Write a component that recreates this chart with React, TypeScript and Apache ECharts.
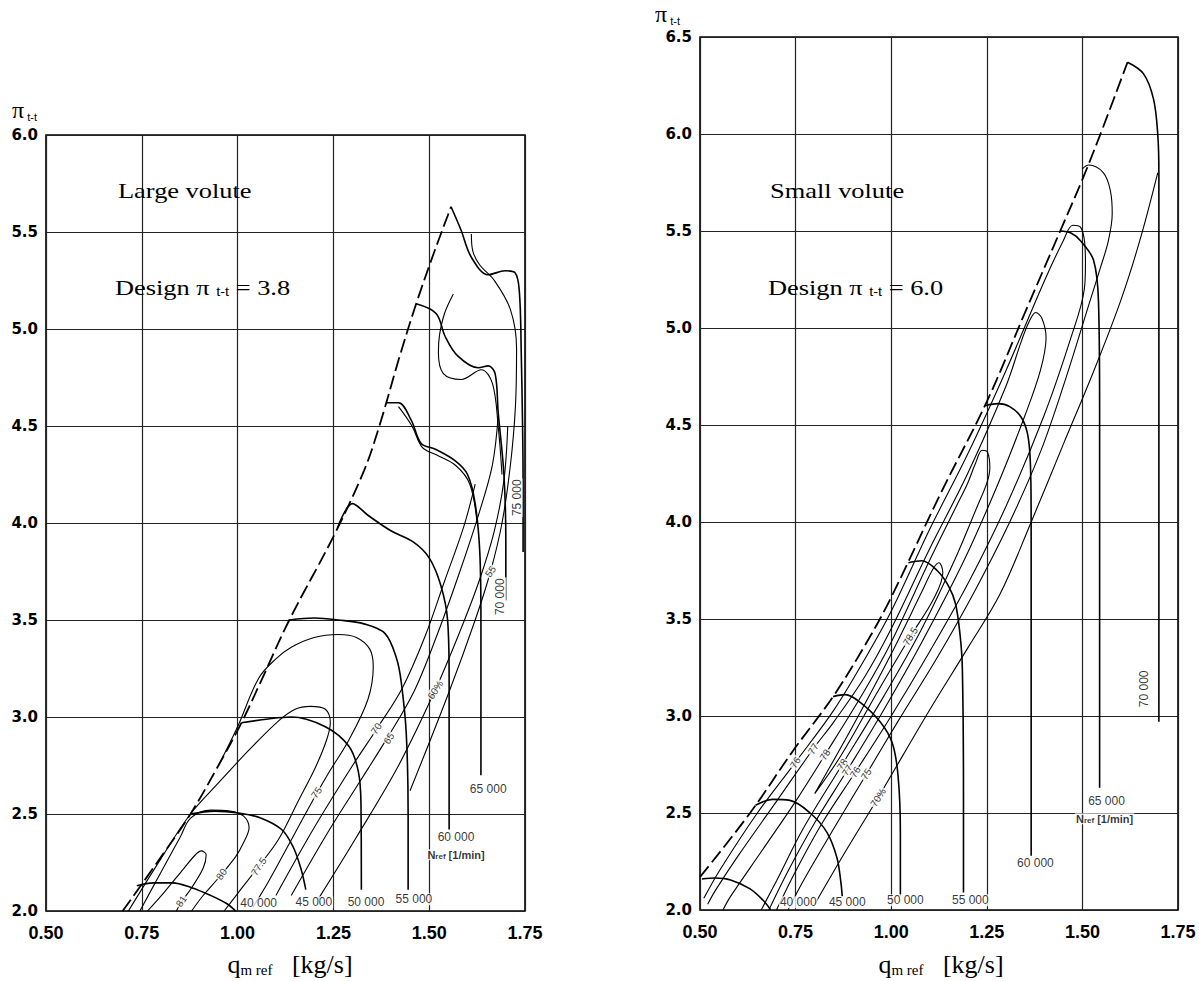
import React, { useEffect, useRef } from "react";
import * as echarts from "echarts";

type Pt = [number, number];
type Lbl = [number, number, string];

const SERIF = "Liberation Serif";
const SANS = "Liberation Sans";

// ---------- axes ----------
const xRange: Pt = [0.5, 1.75];
const xStep = 0.25;
const yStep = 0.5;
const leftYRange: Pt = [2.0, 6.0];
const rightYRange: Pt = [2.0, 6.5];

// ---------- LEFT : large volute ----------
const leftSurge: Pt[] = [[0.70, 2.0], [0.79, 2.25], [0.877, 2.5], [0.95, 2.75], [1.01, 2.97], [1.06, 3.18], [1.135, 3.5], [1.25, 3.93], [1.33, 4.27], [1.37, 4.5], [1.42, 4.84], [1.466, 5.13], [1.51, 5.38], [1.557, 5.63]];

const leftN40: Pt[] = [[0.737, 2.13], [0.78, 2.145], [0.83, 2.145], [0.88, 2.12], [0.93, 2.08], [0.97, 2.04], [0.995, 2.0]];
const leftN45: Pt[] = [[0.877, 2.5], [0.94, 2.515], [1.003, 2.505], [1.06, 2.48], [1.115, 2.42], [1.145, 2.33], [1.165, 2.22], [1.178, 2.11]];
const leftN50: Pt[] = [[1.01, 2.97], [1.08, 2.99], [1.14, 3.0], [1.229, 2.95], [1.29, 2.85], [1.315, 2.72], [1.322, 2.55], [1.323, 2.11]];
const leftN55: Pt[] = [[1.135, 3.5], [1.2, 3.51], [1.263, 3.5], [1.33, 3.48], [1.385, 3.43], [1.415, 3.3], [1.427, 3.18], [1.44, 2.92], [1.445, 2.5], [1.445, 2.11]];
const leftN60: Pt[] = [[1.26, 3.97], [1.30, 4.1], [1.34, 4.04], [1.40, 3.96], [1.46, 3.9], [1.50, 3.82], [1.53, 3.68], [1.548, 3.5], [1.552, 3.2], [1.552, 2.42]];
const leftN65: Pt[] = [[1.388, 4.62], [1.42, 4.62], [1.453, 4.53], [1.479, 4.41], [1.516, 4.38], [1.568, 4.32], [1.60, 4.25], [1.62, 4.1], [1.632, 3.85], [1.635, 3.5], [1.635, 2.7]];
const leftN70: Pt[] = [[1.466, 5.13], [1.518, 5.08], [1.542, 4.96], [1.575, 4.86], [1.628, 4.8], [1.654, 4.81], [1.672, 4.77], [1.68, 4.57], [1.695, 4.25], [1.70, 3.9], [1.70, 3.6]];
const leftN75: Pt[] = [[1.557, 5.63], [1.583, 5.51], [1.61, 5.37], [1.654, 5.28], [1.698, 5.3], [1.724, 5.29], [1.735, 5.2], [1.74, 4.9], [1.745, 4.2], [1.745, 3.85]];

const leftE81: Pt[] = [[0.765, 2.0], [0.81, 2.1], [0.86, 2.22], [0.89, 2.29], [0.905, 2.31], [0.918, 2.29], [0.91, 2.22], [0.88, 2.12], [0.855, 2.05], [0.84, 2.0]];
const leftE80: Pt[] = [[0.745, 2.0], [0.80, 2.2], [0.85, 2.38], [0.878, 2.48], [0.93, 2.52], [0.98, 2.515], [1.015, 2.49], [1.03, 2.43], [1.015, 2.35], [0.995, 2.28], [0.95, 2.17], [0.91, 2.08], [0.88, 2.0]];
const leftE775: Pt[] = [[0.715, 2.0], [0.80, 2.27], [0.877, 2.5], [0.95, 2.66], [1.03, 2.83], [1.107, 2.98], [1.15, 3.04], [1.19, 3.055], [1.229, 3.04], [1.242, 2.97], [1.232, 2.88], [1.203, 2.74], [1.159, 2.57], [1.107, 2.37], [1.055, 2.23], [1.0, 2.09], [0.965, 2.0]];
const leftE75: Pt[] = [[0.95, 2.75], [1.0, 2.95], [1.055, 3.2], [1.10, 3.3], [1.14, 3.36], [1.2, 3.41], [1.263, 3.425], [1.31, 3.41], [1.345, 3.35], [1.354, 3.26], [1.34, 3.09], [1.29, 2.88], [1.237, 2.71], [1.185, 2.53], [1.13, 2.33], [1.08, 2.15], [1.04, 2.02]];
const leftE70: Pt[] = [[1.10, 2.08], [1.20, 2.43], [1.30, 2.75], [1.367, 2.95], [1.43, 3.15], [1.49, 3.42], [1.54, 3.7], [1.59, 3.98], [1.62, 4.2]];
const leftE65: Pt[] = [[1.14, 2.08], [1.24, 2.42], [1.32, 2.67], [1.393, 2.9], [1.46, 3.13], [1.52, 3.42], [1.58, 3.75], [1.63, 4.05], [1.665, 4.3], [1.68, 4.55]];
const leftE60: Pt[] = [[1.21, 2.06], [1.31, 2.38], [1.42, 2.75], [1.516, 3.14], [1.58, 3.44], [1.63, 3.7], [1.67, 3.96], [1.695, 4.22], [1.705, 4.5]];
const leftE55: Pt[] = [[1.45, 2.62], [1.55, 3.12], [1.62, 3.5], [1.66, 3.75], [1.69, 4.0], [1.712, 4.3], [1.725, 4.6], [1.728, 4.9], [1.712, 5.1], [1.67, 5.25], [1.632, 5.33], [1.614, 5.4], [1.61, 5.49]];
const leftETop: Pt[] = [[1.563, 5.18], [1.54, 5.08], [1.527, 4.97], [1.524, 4.88], [1.537, 4.77], [1.584, 4.74], [1.636, 4.79], [1.665, 4.72], [1.68, 4.5], [1.69, 4.25]];
const leftEMid: Pt[] = [[1.42, 4.6], [1.455, 4.5], [1.482, 4.39], [1.52, 4.35], [1.57, 4.295], [1.606, 4.2], [1.625, 4.0]];

const leftEffLabels: Lbl[] = [[0.853, 2.05, "81"], [0.958, 2.19, "80"], [1.055, 2.23, "77.5"], [1.206, 2.61, "75"], [1.362, 2.94, "70"], [1.395, 2.89, "65"], [1.516, 3.14, "60%"], [1.66, 3.75, "55"]];
const leftSpeedLabels: Lbl[] = [[1.055, 2.04, "40 000"], [1.199, 2.045, "45 000"], [1.335, 2.045, "50 000"], [1.46, 2.06, "55 000"], [1.57, 2.38, "60 000"], [1.654, 2.63, "65 000"]];
const leftVertLabels: Lbl[] = [[1.686, 3.62, "70 000"], [1.728, 4.13, "75 000"]];
const leftNref: Pt = [1.57, 2.29];

// ---------- RIGHT : small volute ----------
const rightSurge: Pt[] = [[0.5, 2.17], [0.631, 2.5], [0.743, 2.82], [0.848, 3.1], [0.93, 3.36], [0.997, 3.6], [1.13, 4.15], [1.25, 4.62], [1.35, 5.08], [1.442, 5.5], [1.503, 5.78], [1.555, 6.04], [1.618, 6.37]];

const rightN40: Pt[] = [[0.505, 2.16], [0.54, 2.165], [0.58, 2.155], [0.63, 2.11], [0.665, 2.05], [0.685, 2.0]];
const rightN45: Pt[] = [[0.645, 2.54], [0.69, 2.57], [0.735, 2.565], [0.788, 2.5], [0.832, 2.40], [0.858, 2.27], [0.868, 2.15], [0.872, 2.07]];
const rightN50: Pt[] = [[0.848, 3.1], [0.88, 3.11], [0.919, 3.07], [0.971, 2.97], [1.003, 2.86], [1.018, 2.69], [1.024, 2.4], [1.024, 2.07]];
const rightN55: Pt[] = [[1.045, 3.79], [1.08, 3.8], [1.12, 3.75], [1.15, 3.67], [1.168, 3.58], [1.18, 3.42], [1.186, 3.25], [1.189, 2.6], [1.189, 2.09]];
const rightN60: Pt[] = [[1.246, 4.6], [1.28, 4.61], [1.31, 4.595], [1.34, 4.54], [1.357, 4.45], [1.364, 4.3], [1.366, 4.0], [1.366, 3.0], [1.366, 2.28]];
const rightN65: Pt[] = [[1.442, 5.5], [1.47, 5.49], [1.495, 5.45], [1.529, 5.35], [1.542, 5.14], [1.545, 4.6], [1.545, 3.5], [1.545, 2.63]];
const rightN70: Pt[] = [[1.618, 6.37], [1.66, 6.31], [1.686, 6.18], [1.697, 6.0], [1.70, 5.8], [1.70, 4.5], [1.70, 2.97]];

const rightE76: Pt[] = [[0.51, 2.06], [0.55, 2.2], [0.65, 2.5], [0.749, 2.76], [0.85, 3.03], [0.93, 3.29], [1.0, 3.54], [1.1, 3.96], [1.2, 4.35], [1.3, 4.78], [1.4, 5.24], [1.45, 5.45], [1.475, 5.53], [1.495, 5.52], [1.506, 5.44], [1.508, 5.33], [1.505, 5.2], [1.47, 4.95], [1.4, 4.55], [1.3, 4.08], [1.2, 3.68], [1.1, 3.33], [1.0, 3.0], [0.906, 2.71], [0.82, 2.45], [0.75, 2.2], [0.70, 2.0]];
const rightE77: Pt[] = [[0.52, 2.03], [0.54, 2.1], [0.60, 2.28], [0.70, 2.56], [0.796, 2.83], [0.85, 2.97], [0.93, 3.2], [1.0, 3.45], [1.1, 3.86], [1.2, 4.25], [1.3, 4.7], [1.34, 4.93], [1.36, 5.03], [1.378, 5.08], [1.394, 5.05], [1.405, 4.95], [1.39, 4.78], [1.35, 4.55], [1.28, 4.2], [1.19, 3.8], [1.08, 3.38], [0.98, 3.03], [0.885, 2.72], [0.80, 2.45], [0.73, 2.2], [0.68, 2.0]];
const rightE78: Pt[] = [[0.56, 2.0], [0.58, 2.07], [0.66, 2.3], [0.75, 2.56], [0.827, 2.80], [0.93, 3.13], [1.0, 3.38], [1.1, 3.8], [1.17, 4.08], [1.2, 4.2], [1.22, 4.3], [1.238, 4.37], [1.252, 4.36], [1.258, 4.28], [1.25, 4.2], [1.225, 4.08], [1.165, 3.8], [1.08, 3.45], [0.98, 3.1], [0.872, 2.75], [0.77, 2.42], [0.70, 2.15], [0.66, 2.0]];
const rightE785: Pt[] = [[0.80, 2.6], [0.9, 2.95], [1.0, 3.32], [1.08, 3.64], [1.11, 3.76], [1.125, 3.79], [1.135, 3.74], [1.11, 3.6], [1.05, 3.41], [0.96, 3.11], [0.87, 2.8], [0.80, 2.6]];
const rightE75: Pt[] = [[0.73, 2.0], [0.77, 2.15], [0.85, 2.42], [0.935, 2.7], [1.02, 2.98], [1.12, 3.3], [1.22, 3.65], [1.31, 4.0], [1.39, 4.36], [1.45, 4.7], [1.52, 5.14], [1.547, 5.31], [1.568, 5.45], [1.578, 5.59], [1.573, 5.71], [1.555, 5.80], [1.516, 5.84], [1.50, 5.82]];
const rightE70: Pt[] = [[0.80, 2.03], [0.88, 2.3], [0.966, 2.58], [1.10, 3.03], [1.2, 3.35], [1.285, 3.63], [1.364, 3.99], [1.45, 4.4], [1.53, 4.78], [1.60, 5.14], [1.65, 5.45], [1.697, 5.8]];

const rightEffLabels: Lbl[] = [[0.749, 2.76, "76"], [0.796, 2.83, "77"], [0.827, 2.80, "78"], [0.872, 2.75, "78"], [0.885, 2.72, "77"], [0.906, 2.71, "76"], [0.935, 2.70, "75"], [0.966, 2.58, "70%"], [1.05, 3.41, "78.5"]];
const rightSpeedLabels: Lbl[] = [[0.757, 2.04, "40 000"], [0.885, 2.04, "45 000"], [1.037, 2.05, "50 000"], [1.207, 2.05, "55 000"], [1.377, 2.24, "60 000"], [1.563, 2.56, "65 000"]];
const rightVertLabels: Lbl[] = [[1.66, 3.14, "70 000"]];
const rightNref: Pt = [1.558, 2.47];

const leftSpeedLines = [leftN40, leftN45, leftN50, leftN55, leftN60, leftN65, leftN70, leftN75];
const leftEffLines = [leftE81, leftE80, leftE775, leftE75, leftE70, leftE65, leftE60, leftE55, leftETop, leftEMid];
const rightSpeedLines = [rightN40, rightN45, rightN50, rightN55, rightN60, rightN65, rightN70];
const rightEffLines = [rightE76, rightE77, rightE78, rightE785, rightE75, rightE70];

function curve(data: Pt[], g: number, width: number, dashed = false) {
  return {
    type: "line",
    xAxisIndex: g,
    yAxisIndex: g,
    data,
    showSymbol: false,
    symbol: "none",
    smooth: 0.35,
    silent: true,
    z: 2,
    lineStyle: { color: "#000", width, type: dashed ? [14, 5] : "solid" },
  };
}

function labels(items: Lbl[], g: number, style: any) {
  return {
    type: "scatter",
    xAxisIndex: g,
    yAxisIndex: g,
    symbolSize: 1,
    itemStyle: { color: "rgba(0,0,0,0)" },
    silent: true,
    z: 5,
    data: items.map(([x, y, t]) => ({ value: [x, y], label: { formatter: t } })),
    label: {
      show: true,
      position: "inside",
      color: "#000",
      fontFamily: SANS,
      backgroundColor: "#fff",
      padding: [0, 1],
      ...style,
    },
  };
}

function nrefLabel(p: Pt, g: number) {
  return {
    type: "scatter",
    xAxisIndex: g,
    yAxisIndex: g,
    symbolSize: 1,
    itemStyle: { color: "rgba(0,0,0,0)" },
    silent: true,
    z: 5,
    data: [{ value: p }],
    label: {
      show: true,
      position: "inside",
      formatter: "{b|N}{s|ref}{b| [1/min]}",
      backgroundColor: "#fff",
      padding: [0, 1],
      rich: {
        b: { fontFamily: SANS, fontWeight: "bold", fontSize: 11, color: "#000", verticalAlign: "bottom" },
        s: { fontFamily: SANS, fontWeight: "bold", fontSize: 8, color: "#000", verticalAlign: "bottom" },
      },
    },
  };
}

function richText(x: number, y: number, text: string, rich: any, align: string, scaleX = 1) {
  return {
    type: "text",
    x,
    y,
    scaleX,
    silent: true,
    z: 10,
    style: {
      text,
      rich,
      fill: "#000",
      align,
      textAlign: align,
      verticalAlign: "middle",
      textVerticalAlign: "middle",
    },
  };
}

const bigRich = {
  b: { fontFamily: SERIF, fontSize: 22, fill: "#000", verticalAlign: "bottom" },
  s: { fontFamily: SANS, fontSize: 12, fill: "#000", verticalAlign: "bottom" },
};
const yNameRich = {
  p: { fontFamily: SERIF, fontSize: 24, fill: "#000", verticalAlign: "bottom" },
  s: { fontFamily: SANS, fontSize: 11, fill: "#000", verticalAlign: "bottom" },
};
const xNameRich = {
  q: { fontFamily: SERIF, fontSize: 26, fill: "#000", verticalAlign: "bottom" },
  m: { fontFamily: SERIF, fontSize: 15, fill: "#000", verticalAlign: "bottom" },
};

export default function App() {
  const ref = useRef<HTMLDivElement>(null);
  useEffect(() => {
    document.body.style.margin = "0";
    if (!ref.current) return;
    const chart = echarts.init(ref.current, undefined, { renderer: "svg" });

    const xAxis = (g: number) => ({
      type: "value",
      gridIndex: g,
      min: xRange[0],
      max: xRange[1],
      interval: xStep,
      axisLine: { show: false },
      axisTick: { show: false },
      splitLine: { show: true, lineStyle: { color: "#222", width: 1.2 } },
      axisLabel: {
        formatter: (v: number) => v.toFixed(2),
        color: "#000",
        fontWeight: "bold",
        fontSize: 18,
        fontFamily: SANS,
        margin: 13,
      },
    });
    const yAxis = (g: number, r: Pt) => ({
      type: "value",
      gridIndex: g,
      min: r[0],
      max: r[1],
      interval: yStep,
      axisLine: { show: false },
      axisTick: { show: false },
      splitLine: { show: true, lineStyle: { color: "#222", width: 1.2 } },
      axisLabel: {
        formatter: (v: number) => v.toFixed(1),
        color: "#000",
        fontWeight: "bold",
        fontSize: 15,
        fontFamily: "DejaVu Sans",
        margin: 8,
      },
    });

    const effStyleL = { fontSize: 10, rotate: 56 };
    const effStyleR = { fontSize: 10, rotate: 58 };
    const speedStyle = { fontSize: 12 };
    const vertStyle = { fontSize: 12, rotate: 90 };

    const series: any[] = [
      curve(leftSurge, 0, 1.8, true),
      ...leftSpeedLines.map((d) => curve(d, 0, 1.6)),
      ...leftEffLines.map((d) => curve(d, 0, 1.1)),
      curve(rightSurge, 1, 1.8, true),
      ...rightSpeedLines.map((d) => curve(d, 1, 1.6)),
      ...rightEffLines.map((d) => curve(d, 1, 1.1)),
      labels(leftEffLabels, 0, effStyleL),
      labels(leftSpeedLabels, 0, speedStyle),
      labels(leftVertLabels, 0, vertStyle),
      nrefLabel(leftNref, 0),
      labels(rightEffLabels, 1, effStyleR),
      labels(rightSpeedLabels, 1, speedStyle),
      labels(rightVertLabels, 1, vertStyle),
      nrefLabel(rightNref, 1),
    ];

    chart.setOption({
      animation: false,
      backgroundColor: "#fff",
      grid: [
        { left: 46, top: 135, width: 479, height: 776, show: true, borderColor: "#000", borderWidth: 1.6 },
        { left: 700, top: 37, width: 478, height: 873, show: true, borderColor: "#000", borderWidth: 1.6 },
      ],
      xAxis: [xAxis(0), xAxis(1)],
      yAxis: [yAxis(0, leftYRange), yAxis(1, rightYRange)],
      series,
      graphic: [
        richText(118, 190, "{b|Large volute}", bigRich, "left", 1.2),
        richText(115, 287, "{b|Design π }{s|t-t}{b| = 3.8}", bigRich, "left", 1.2),
        richText(770, 190, "{b|Small volute}", bigRich, "left", 1.2),
        richText(768, 287, "{b|Design π }{s|t-t}{b| = 6.0}", bigRich, "left", 1.2),
        richText(12, 110, "{p|π}{s| t-t}", yNameRich, "left"),
        richText(655, 14, "{p|π}{s| t-t}", yNameRich, "left"),
        richText(290, 964, "{q|q}{m|m ref}{q|   [kg/s]}", xNameRich, "center"),
        richText(941, 964, "{q|q}{m|m ref}{q|   [kg/s]}", xNameRich, "center"),
      ],
    });
    return () => chart.dispose();
  }, []);
  return <div ref={ref} style={{ width: 1199, height: 981 }} />;
}
